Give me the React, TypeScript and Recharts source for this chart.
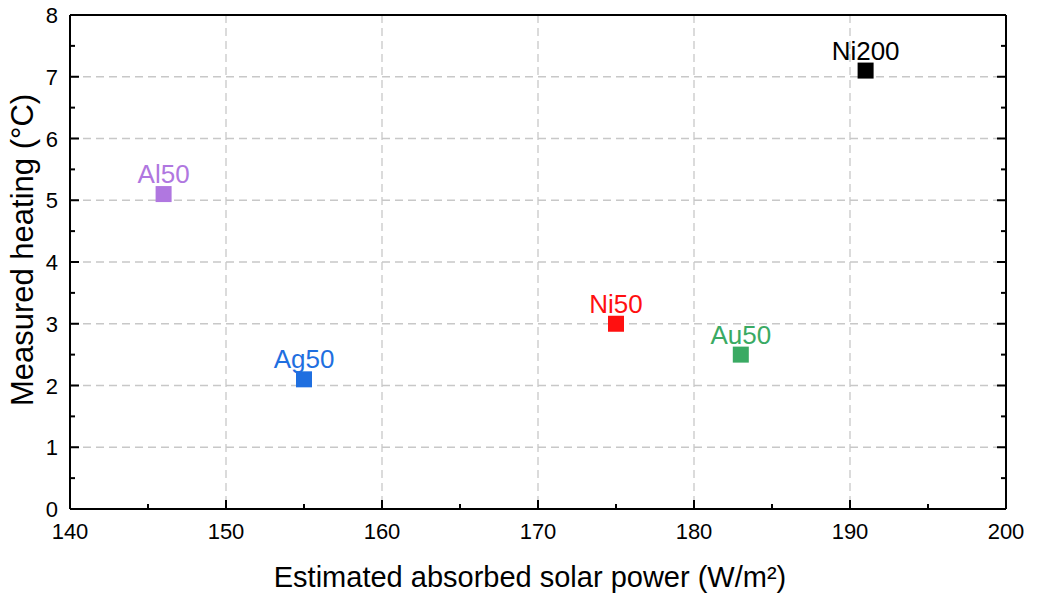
import {
  ScatterChart,
  Scatter,
  XAxis,
  YAxis,
  CartesianGrid,
  LabelList,
  Label,
} from 'recharts';

const samples = ['Al50', 'Ag50', 'Ni50', 'Au50', 'Ni200'];
const absorbedPower = [146, 155, 175, 183, 191];
const measuredHeating = [5.1, 2.1, 3.0, 2.5, 7.1];
const sampleColors = ['#B077E0', '#1F6FE0', '#FF1010', '#3AAA63', '#000000'];

const xTicks = [140, 150, 160, 170, 180, 190, 200];
const xMinorTicks = [145, 155, 165, 175, 185, 195];
const yTicks = [0, 1, 2, 3, 4, 5, 6, 7, 8];
const yMinorTicks = [0.5, 1.5, 2.5, 3.5, 4.5, 5.5, 6.5, 7.5];

const X_DOMAIN = [140, 200];
const Y_DOMAIN = [0, 8];

const FONT = 'Arial, "Liberation Sans", sans-serif';
const axisStroke = { stroke: '#000', strokeWidth: 2 };
const MAJOR = 9;
const MINOR = 5;

const allX = [...xTicks, ...xMinorTicks].sort((a, b) => a - b);
const allY = [...yTicks, ...yMinorTicks].sort((a, b) => a - b);

// tick mark pointing into the plot + label outside (major only)
const makeTick = (side: 'bottom' | 'top' | 'left' | 'right', majors: number[]) =>
  (props: any) => {
    const { x, y, payload } = props;
    const v = payload.value;
    const major = majors.includes(v);
    const len = major ? MAJOR : MINOR;
    let line;
    let label = null;
    if (side === 'bottom') {
      line = <line x1={x} y1={y} x2={x} y2={y - len} stroke="#000" strokeWidth={2} />;
      if (major)
        label = (
          <text x={x} y={y + 30} textAnchor="middle" fontSize={22} fill="#000" fontFamily={FONT}>
            {v}
          </text>
        );
    } else if (side === 'top') {
      line = <line x1={x} y1={y} x2={x} y2={y + len} stroke="#000" strokeWidth={2} />;
    } else if (side === 'left') {
      line = <line x1={x} y1={y} x2={x + len} y2={y} stroke="#000" strokeWidth={2} />;
      if (major)
        label = (
          <text x={x - 12} y={y + 8} textAnchor="end" fontSize={22} fill="#000" fontFamily={FONT}>
            {v}
          </text>
        );
    } else {
      line = <line x1={x} y1={y} x2={x - len} y2={y} stroke="#000" strokeWidth={2} />;
    }
    return (
      <g>
        {line}
        {label}
      </g>
    );
  };

const XTitle = ({ viewBox }: any) => (
  <text
    x={viewBox.x + viewBox.width / 2 - 8}
    y={587}
    textAnchor="middle"
    fontSize={29}
    fill="#000"
    fontFamily={FONT}
  >
    Estimated absorbed solar power (W/m²)
  </text>
);

const YTitle = ({ viewBox }: any) => {
  const x = 33;
  const y = viewBox.y + viewBox.height / 2 - 12;
  return (
    <text
      x={x}
      y={y}
      transform={`rotate(-90 ${x} ${y})`}
      textAnchor="middle"
      fontSize={31}
      fill="#000"
      fontFamily={FONT}
    >
      Measured heating (°C)
    </text>
  );
};

const SquareMark = (color: string) => (props: any) => (
  <rect x={props.cx - 8} y={props.cy - 8} width={16} height={16} fill={color} />
);

const PointLabel = (color: string) => (props: any) => {
  const { x, y, width, height, value } = props;
  const cx = x + width / 2;
  const cy = y + height / 2;
  return (
    <text x={cx} y={cy - 11} textAnchor="middle" fontSize={26} fill={color} fontFamily={FONT}>
      {value}
    </text>
  );
};

// grid only at the major ticks
const gridX = ({ xAxis, offset }: any) =>
  xTicks.map((v) =>
    typeof xAxis?.scale === 'function'
      ? xAxis.scale(v)
      : offset.left + ((v - X_DOMAIN[0]) / (X_DOMAIN[1] - X_DOMAIN[0])) * offset.width,
  );
const gridY = ({ yAxis, offset }: any) =>
  yTicks.map((v) =>
    typeof yAxis?.scale === 'function'
      ? yAxis.scale(v)
      : offset.top + ((Y_DOMAIN[1] - v) / (Y_DOMAIN[1] - Y_DOMAIN[0])) * offset.height,
  );

export default function App() {
  return (
    <div style={{ position: 'absolute', left: 0, top: 0, fontFamily: FONT }}>
      <ScatterChart
        width={1037}
        height={594}
        margin={{ top: 14, right: 30, bottom: 84, left: 69 }}
      >
        <CartesianGrid
          stroke="#c8c8c8"
          strokeDasharray="8 5"
          strokeWidth={1.3}
          verticalCoordinatesGenerator={gridX}
          horizontalCoordinatesGenerator={gridY}
        />
        <XAxis
          type="number"
          dataKey="x"
          domain={X_DOMAIN}
          ticks={allX}
          interval={0}
          height={1}
          tickLine={false}
          tickSize={0}
          tickMargin={0}
          axisLine={axisStroke}
          tick={makeTick('bottom', xTicks)}
          allowDataOverflow
        >
          <Label content={<XTitle />} />
        </XAxis>
        <YAxis
          type="number"
          dataKey="y"
          domain={Y_DOMAIN}
          ticks={allY}
          interval={0}
          width={1}
          tickLine={false}
          tickSize={0}
          tickMargin={0}
          axisLine={axisStroke}
          tick={makeTick('left', yTicks)}
          allowDataOverflow
        >
          <Label content={<YTitle />} />
        </YAxis>
        <XAxis
          xAxisId="top"
          orientation="top"
          type="number"
          domain={X_DOMAIN}
          ticks={allX}
          interval={0}
          height={1}
          tickLine={false}
          tickSize={0}
          tickMargin={0}
          axisLine={axisStroke}
          tick={makeTick('top', xTicks)}
          allowDataOverflow
        />
        <YAxis
          yAxisId="right"
          orientation="right"
          type="number"
          domain={Y_DOMAIN}
          ticks={allY}
          interval={0}
          width={1}
          tickLine={false}
          tickSize={0}
          tickMargin={0}
          axisLine={axisStroke}
          tick={makeTick('right', yTicks)}
          allowDataOverflow
        />

        {samples.map((name, i) => (
          <Scatter
            key={name}
            name={name}
            data={[{ x: absorbedPower[i], y: measuredHeating[i], name }]}
            fill={sampleColors[i]}
            shape={SquareMark(sampleColors[i])}
            isAnimationActive={false}
          >
            <LabelList dataKey="name" content={PointLabel(sampleColors[i])} />
          </Scatter>
        ))}
      </ScatterChart>
    </div>
  );
}
